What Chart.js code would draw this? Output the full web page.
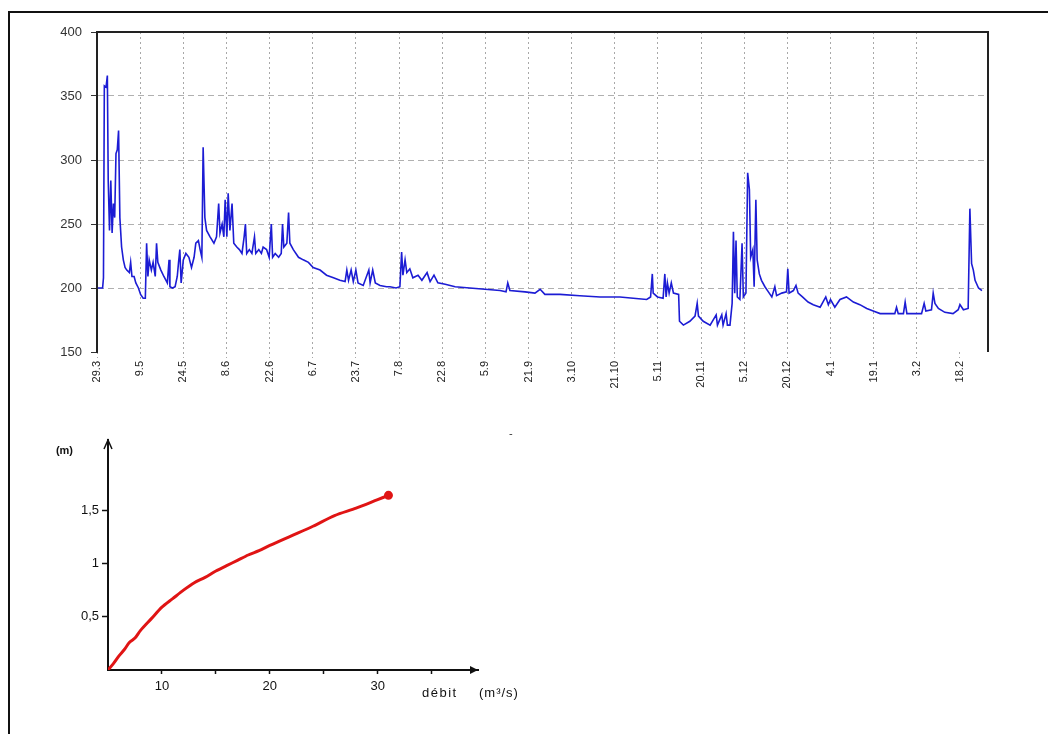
<!DOCTYPE html>
<html>
<head>
<meta charset="utf-8">
<script src="https://cdn.jsdelivr.net/npm/chart.js@4.4.0/dist/chart.umd.min.js"></script>
<style>
  html, body { margin: 0; padding: 0; background: #fff; }
  #page { position: relative; width: 1048px; height: 734px; overflow: hidden; font-family: "Liberation Sans", Arial, sans-serif; }
  #frame { position: absolute; left: 8px; top: 11px; width: 1060px; height: 760px; border-left: 2px solid #111; border-top: 2px solid #111; }
  #topChart { position: absolute; left: 0; top: 0; }
  #bottomChart { position: absolute; left: 20px; top: 425px; }
  #dash { position: absolute; left: 509px; top: 427px; font-size: 11px; color: #333; }
</style>
</head>
<body>
<div id="page">
  <div id="frame"></div>
  <canvas id="topChart" width="1048" height="420"></canvas>
  <canvas id="bottomChart" width="540" height="290"></canvas>
  <span id="dash">-</span>
</div>
<script>
/* global document, Chart */

// Top chart: date labels (one every half month) and water level series
let dateLabels = ['29.3', '9.5', '24.5', '8.6', '22.6', '6.7', '23.7', '7.8', '22.8', '5.9', '21.9',
    '3.10', '21.10', '5.11', '20.11', '5.12', '20.12', '4.1', '19.1', '3.2', '18.2'];
let levelTicks = [150, 200, 250, 300, 350, 400];

// x position in label intervals
let levelX = [0.02, 0.13, 0.15, 0.17, 0.21, 0.24, 0.26, 0.29, 0.32, 0.35, 0.38, 0.41, 0.44, 0.47, 0.50,
    0.53, 0.57, 0.61, 0.65, 0.69, 0.75, 0.78, 0.81, 0.86, 0.90, 0.96, 1.01, 1.07, 1.12, 1.15,
    1.18, 1.21, 1.26, 1.30, 1.35, 1.38, 1.41, 1.48, 1.55, 1.63, 1.67, 1.69, 1.75, 1.81, 1.86,
    1.89, 1.92, 1.95, 2.00, 2.06, 2.13, 2.19, 2.25, 2.29, 2.35, 2.39, 2.43, 2.46, 2.50, 2.54,
    2.62, 2.71, 2.77, 2.82, 2.85, 2.90, 2.94, 2.97, 3.01, 3.04, 3.08, 3.13, 3.17, 3.24, 3.30,
    3.36, 3.41, 3.44, 3.47, 3.53, 3.59, 3.65, 3.68, 3.75, 3.81, 3.85, 3.93, 3.99, 4.04, 4.07,
    4.13, 4.21, 4.27, 4.30, 4.33, 4.40, 4.44, 4.47, 4.55, 4.67, 4.78, 4.90, 5.01, 5.17, 5.32,
    5.48, 5.63, 5.75, 5.79, 5.83, 5.89, 5.94, 6.00, 6.05, 6.17, 6.30, 6.33, 6.39, 6.45, 6.56,
    6.71, 6.79, 6.93, 7.02, 7.06, 7.09, 7.14, 7.18, 7.25, 7.32, 7.44, 7.53, 7.65, 7.72, 7.81,
    7.90, 8.07, 8.30, 8.64, 8.99, 9.34, 9.48, 9.52, 9.57, 9.92, 10.15, 10.27, 10.38, 10.73, 11.19,
    11.66, 12.12, 12.43, 12.74, 12.83, 12.87, 12.89, 12.99, 13.12, 13.16, 13.19, 13.22, 13.26, 13.31, 13.36,
    13.48, 13.50, 13.59, 13.74, 13.86, 13.91, 13.94, 14.05, 14.21, 14.35, 14.38, 14.48, 14.51, 14.58, 14.61,
    14.67, 14.72, 14.75, 14.78, 14.81, 14.84, 14.90, 14.95, 14.98, 15.04, 15.08, 15.12, 15.15, 15.20, 15.23,
    15.27, 15.30, 15.35, 15.40, 15.48, 15.56, 15.64, 15.71, 15.75, 15.87, 15.98, 16.01, 16.04, 16.14, 16.20,
    16.25, 16.35, 16.48, 16.60, 16.76, 16.89, 16.95, 17.00, 17.10, 17.22, 17.37, 17.53, 17.68, 17.84, 17.99,
    18.15, 18.30, 18.49, 18.53, 18.57, 18.69, 18.73, 18.77, 18.92, 19.11, 19.17, 19.21, 19.34, 19.38, 19.42,
    19.50, 19.65, 19.84, 19.96, 20.00, 20.08, 20.19, 20.23, 20.27, 20.31, 20.35, 20.43, 20.51];

let levelValues = [200, 200, 208, 358, 357, 366, 284, 245, 284, 243, 266, 255, 305, 308, 323,
    255, 232, 222, 216, 214, 212, 220, 209, 209, 204, 200, 195, 192, 192, 235,
    209, 222, 214, 220, 209, 235, 220, 214, 209, 204, 222, 201, 200, 201, 209,
    220, 230, 204, 222, 227, 224, 216, 224, 235, 237, 230, 224, 310, 255, 245,
    240, 235, 240, 266, 243, 250, 240, 269, 240, 274, 245, 266, 235, 232, 230,
    227, 240, 250, 227, 230, 227, 240, 227, 230, 227, 232, 230, 224, 250, 224,
    227, 224, 227, 250, 232, 235, 259, 235, 230, 224, 222, 220, 216, 214, 210,
    208, 206, 205, 214, 206, 214, 205, 214, 204, 202, 214, 204, 214, 204, 202,
    201, 201, 200, 201, 228, 210, 222, 212, 215, 208, 210, 206, 212, 205, 210,
    204, 203, 201, 200, 199, 198, 197, 204, 198, 197, 196, 199, 195, 195, 194,
    193, 193, 192, 191, 193, 211, 196, 193, 192, 211, 193, 204, 196, 204, 196,
    195, 174, 171, 174, 178, 188, 178, 174, 171, 179, 171, 179, 171, 180, 171,
    171, 188, 244, 196, 237, 193, 191, 235, 193, 196, 290, 277, 224, 230, 201,
    269, 222, 211, 206, 201, 197, 193, 201, 194, 196, 197, 215, 196, 198, 202,
    196, 193, 189, 187, 185, 193, 187, 191, 185, 191, 193, 189, 187, 184, 182,
    180, 180, 180, 185, 180, 180, 189, 180, 180, 180, 188, 182, 183, 196, 188,
    184, 181, 180, 183, 187, 183, 184, 262, 219, 214, 206, 200, 198];

// Bottom chart: height versus flow (rating curve)
let flowValues = [5, 5.5, 6, 6.5, 7, 7.5, 8, 9, 10, 11, 12, 13, 14, 15, 16, 17, 18, 19, 20, 22, 24, 26, 28, 30, 31];
let heightValues = [0, 0.06, 0.13, 0.19, 0.26, 0.30, 0.37, 0.48, 0.59, 0.67, 0.75, 0.82, 0.87, 0.93, 0.98,
    1.03, 1.08, 1.12, 1.17, 1.26, 1.35, 1.45, 1.52, 1.60, 1.64];
let flowTicks = [10, 15, 20, 25, 30, 35];
let flowLabels = ['10', '', '20', '', '30', ''];
let heightTicks = [0.5, 1, 1.5];
let heightLabels = ['0,5', '1', '1,5'];

let fontFamily = '"Liberation Sans", Arial, sans-serif';

let frameLines = {
    id: 'frameLines',
    afterDraw(chart) {
        let ctx = chart.ctx;
        let area = chart.chartArea;
        ctx.save();
        ctx.strokeStyle = '#222';
        ctx.lineWidth = 2;
        ctx.beginPath();
        ctx.moveTo(area.left, area.top);
        ctx.lineTo(area.right, area.top);
        ctx.lineTo(area.right, area.bottom);
        ctx.stroke();
        ctx.restore();
    }
};

new Chart(document.getElementById('topChart'), {
    type: 'line',
    data: {
        datasets: [{
            data: levelX.map((x, i) => ({ x: x, y: levelValues[i] })),
            borderColor: '#1c1cd4',
            borderWidth: 1.6,
            pointRadius: 0,
            tension: 0
        }]
    },
    options: {
        responsive: false,
        animation: false,
        layout: { padding: { top: 32, right: 60, left: 0, bottom: 0 } },
        plugins: { legend: { display: false }, tooltip: { enabled: false } },
        scales: {
            x: {
                type: 'linear',
                min: 0,
                max: 20.65,
                afterBuildTicks: scale => { scale.ticks = dateLabels.map((_, i) => ({ value: i })); },
                afterFit: scale => { scale.height = 68; },
                ticks: {
                    autoSkip: false,
                    minRotation: 90,
                    maxRotation: 90,
                    padding: 3,
                    color: '#222',
                    font: { family: fontFamily, size: 11 },
                    callback: value => dateLabels[value]
                },
                grid: {
                    color: ctx => (ctx.index === 0 || ctx.index === 20) ? 'rgba(0,0,0,0)' : '#a8a8a8',
                    lineWidth: 1,
                    tickLength: 6,
                    tickColor: '#a8a8a8',
                    tickBorderDash: [2, 3]
                },
                border: { display: false, dash: [2, 3] }
            },
            y: {
                min: 150,
                max: 400,
                afterBuildTicks: scale => { scale.ticks = levelTicks.map(v => ({ value: v })); },
                afterFit: scale => { scale.width = 97; },
                ticks: {
                    padding: 9,
                    color: '#333',
                    font: { family: fontFamily, size: 13 }
                },
                grid: {
                    color: ctx => (ctx.tick.value === 150 || ctx.tick.value === 400) ? 'rgba(0,0,0,0)' : '#b0b0b0',
                    tickLength: 6,
                    tickColor: '#333',
                    tickBorderDash: []
                },
                border: { display: true, color: '#222', width: 2, dash: [6, 4] }
            }
        }
    },
    plugins: [frameLines]
});

let axisArrows = {
    id: 'axisArrows',
    afterDraw(chart) {
        let ctx = chart.ctx;
        let area = chart.chartArea;
        ctx.save();
        ctx.strokeStyle = '#111';
        ctx.lineWidth = 1.5;
        // y arrow
        ctx.beginPath();
        ctx.moveTo(area.left - 4, area.top + 9);
        ctx.lineTo(area.left, area.top);
        ctx.lineTo(area.left + 4, area.top + 9);
        ctx.stroke();
        // x arrow
        ctx.fillStyle = '#111';
        ctx.beginPath();
        ctx.moveTo(area.right - 8, area.bottom - 4);
        ctx.lineTo(area.right, area.bottom);
        ctx.lineTo(area.right - 8, area.bottom + 4);
        ctx.closePath();
        ctx.fill();
        // axis names
        ctx.font = 'bold 11px ' + fontFamily;
        ctx.textAlign = 'right';
        ctx.textBaseline = 'middle';
        ctx.fillText('(m)', area.left - 35, area.top + 11);
        ctx.font = '13px ' + fontFamily;
        ctx.textAlign = 'left';
        ctx.letterSpacing = '1.5px';
        ctx.fillText('débit', area.right - 56, area.bottom + 23);
        ctx.letterSpacing = '1px';
        ctx.fillText('(m³/s)', area.right + 1, area.bottom + 23);
        ctx.restore();
    }
};

new Chart(document.getElementById('bottomChart'), {
    type: 'line',
    data: {
        datasets: [{
            data: flowValues.map((x, i) => ({ x: x, y: heightValues[i] })),
            borderColor: '#e01414',
            backgroundColor: '#e01414',
            borderWidth: 3,
            pointRadius: ctx => ctx.dataIndex === flowValues.length - 1 ? 3 : 0,
            tension: 0.3
        }]
    },
    options: {
        responsive: false,
        animation: false,
        layout: { padding: { top: 15, right: 82, left: 0, bottom: 0 } },
        plugins: { legend: { display: false }, tooltip: { enabled: false } },
        scales: {
            x: {
                type: 'linear',
                min: 5,
                max: 39.3,
                afterBuildTicks: scale => { scale.ticks = flowTicks.map(v => ({ value: v })); },
                afterFit: scale => { scale.height = 45; },
                ticks: {
                    autoSkip: false,
                    maxRotation: 0,
                    padding: 5,
                    color: '#111',
                    font: { family: fontFamily, size: 13 },
                    callback: (value, index) => flowLabels[index]
                },
                grid: { drawOnChartArea: false, tickLength: 4, tickColor: '#111', tickWidth: 1.5 },
                border: { display: true, color: '#111', width: 2 }
            },
            y: {
                min: 0,
                max: 2.16,
                afterBuildTicks: scale => { scale.ticks = heightTicks.map(v => ({ value: v })); },
                afterFit: scale => { scale.width = 88; },
                ticks: {
                    padding: 3,
                    color: '#111',
                    font: { family: fontFamily, size: 13 },
                    callback: (value, index) => heightLabels[index]
                },
                grid: { drawOnChartArea: false, tickLength: 6, tickColor: '#111', tickWidth: 1.5 },
                border: { display: true, color: '#111', width: 2 }
            }
        }
    },
    plugins: [axisArrows]
});
</script>
</body>
</html>
